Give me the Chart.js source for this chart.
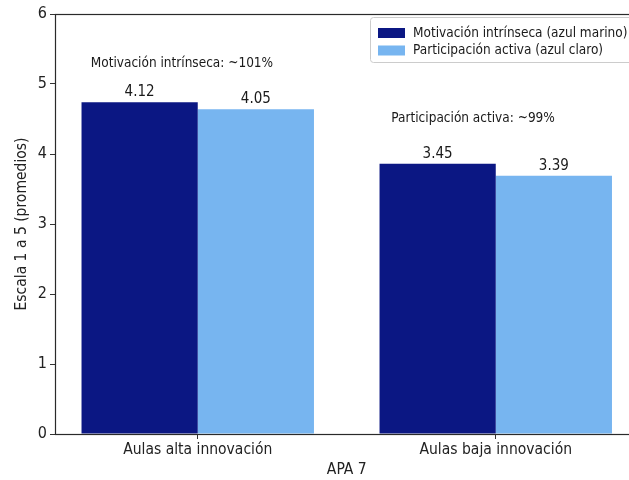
<!DOCTYPE html>
<html><head><meta charset="utf-8">
<script src="https://cdn.jsdelivr.net/npm/chart.js@4"></script>
<style>
html,body{margin:0;padding:0;background:#fff;overflow:hidden;width:629px;height:480px}
#wrap{position:absolute;left:0;top:0;width:660px;height:480px}
</style></head><body>
<div id="wrap"><canvas id="c" width="660" height="480"></canvas></div>
<script>
// ---- data ----
const categories = ["Aulas alta innovación", "Aulas baja innovación"];
const seriesNames = ["Motivación intrínseca (azul marino)", "Participación activa (azul claro)"];
const motivacion = [4.74, 3.86];          // bar heights as drawn
const participacion = [4.64, 3.69];       // bar heights as drawn
const motivacionLabels = ["4.12", "3.45"];    // printed value labels
const participacionLabels = ["4.05", "3.39"]; // printed value labels
const yTicks = [0, 1, 2, 3, 4, 5, 6];
const notes = ["Motivación intrínseca: ~101%", "Participación activa: ~99%"];
const yTitle = "Escala 1 a 5 (promedios)";
const xTitle = "APA 7";

const NAVY = "#0b1783";
const LIGHT = "#77b5f0";
const FONT = '"DejaVu Sans Condensed", "DejaVu Sans", sans-serif';
Chart.defaults.font.family = FONT;

const labelSets = [motivacionLabels, participacionLabels];
const notePos = [{x: -0.053, y: 5.30}, {x: 0.924, y: 4.51}];

const extras = {
  id: 'extras',
  afterDraw(chart) {
    const ctx = chart.ctx, ca = chart.chartArea;
    const xs = chart.scales.x, ys = chart.scales.y;
    ctx.save();
    // spines
    ctx.strokeStyle = '#2a2a2a';
    ctx.lineWidth = 1.2;
    ctx.strokeRect(Math.round(ca.left) + 0.5, Math.round(ca.top) + 0.5,
                   Math.round(ca.right - ca.left), Math.round(ca.bottom - ca.top));
    // value labels
    ctx.fillStyle = '#1a1a1a';
    ctx.font = '15px ' + FONT;
    ctx.textAlign = 'center';
    ctx.textBaseline = 'alphabetic';
    chart.data.datasets.forEach((ds, di) => {
      const meta = chart.getDatasetMeta(di);
      meta.data.forEach((bar, i) => {
        ctx.fillText(labelSets[di][i], bar.x, bar.y - 6);
      });
    });
    // notes
    ctx.font = '13.5px ' + FONT;
    ctx.textBaseline = 'middle';
    notes.forEach((t, i) => {
      ctx.fillText(t, xs.getPixelForValue(notePos[i].x), ys.getPixelForValue(notePos[i].y));
    });
    // legend
    const lx = 370.5, ly = 17.5, lw = 275, lh = 45;
    ctx.beginPath();
    if (ctx.roundRect) ctx.roundRect(lx, ly, lw, lh, 3); else ctx.rect(lx, ly, lw, lh);
    ctx.fillStyle = 'rgba(255,255,255,0.85)';
    ctx.fill();
    ctx.strokeStyle = '#cccccc';
    ctx.lineWidth = 1;
    ctx.stroke();
    const cols = [NAVY, LIGHT];
    ctx.textAlign = 'left';
    ctx.font = '13.5px ' + FONT;
    seriesNames.forEach((n, i) => {
      const cy = 33 + i * 17.5;
      ctx.fillStyle = cols[i];
      ctx.fillRect(378, cy - 5, 27, 10);
      ctx.fillStyle = '#1a1a1a';
      ctx.fillText(n, 413, cy);
    });
    ctx.restore();
  }
};

new Chart(document.getElementById('c'), {
  type: 'bar',
  data: {
    datasets: [
      {label: seriesNames[0], data: motivacion.map((v, i) => ({x: i, y: v})), backgroundColor: NAVY,
       categoryPercentage: 0.78, barPercentage: 1, borderWidth: 0},
      {label: seriesNames[1], data: participacion.map((v, i) => ({x: i, y: v})), backgroundColor: LIGHT,
       categoryPercentage: 0.78, barPercentage: 1, borderWidth: 0}
    ]
  },
  options: {
    responsive: false,
    animation: false,
    devicePixelRatio: 1,
    layout: {padding: {top: 14, left: 0, right: 21.5, bottom: 0}},
    plugins: {legend: {display: false}, tooltip: {enabled: false}},
    scales: {
      x: {
        type: 'linear',
        offset: false,
        min: -0.479, max: 1.479,
        afterBuildTicks: s => { s.ticks = categories.map((c, i) => ({value: i})); },
        afterFit: s => { s.height = 46; },
        ticks: {callback: v => categories[v], font: {size: 15.5}, color: '#222', padding: 2,
                maxRotation: 0, autoSkip: false},
        grid: {offset: false, drawOnChartArea: false, drawTicks: true, tickLength: 5, color: '#333'},
        border: {display: false},
        title: {display: true, text: xTitle, font: {size: 15.5}, color: '#222', padding: {top: 0, bottom: 1}}
      },
      y: {
        min: 0, max: 6,
        afterBuildTicks: s => { s.ticks = yTicks.map(v => ({value: v})); },
        afterFit: s => { s.width = 55; },
        ticks: {font: {size: 16}, color: '#222', padding: 3},
        grid: {drawOnChartArea: false, drawTicks: true, tickLength: 5, color: '#333'},
        border: {display: false},
        title: {display: true, text: yTitle, font: {size: 15.5}, color: '#222', padding: {top: 13, bottom: 0}}
      }
    }
  },
  plugins: [extras]
});
</script>
</body></html>
